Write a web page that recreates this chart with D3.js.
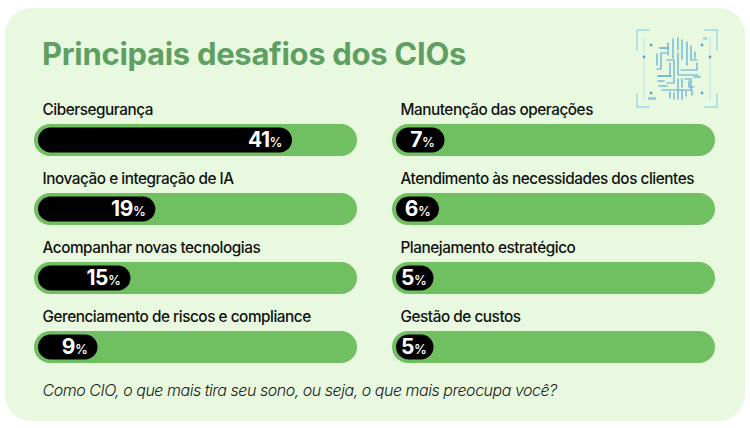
<!DOCTYPE html>
<html>
<head>
<meta charset="utf-8">
<script src="https://cdn.jsdelivr.net/npm/d3@7"></script>
<style>
html, body { margin: 0; padding: 0; background: #fff; }
svg { display: block; }
text { font-family: Inter, sans-serif; }
</style>
</head>
<body>
<svg id="chart" width="750" height="428"></svg>
<script>
var TITLE = "Principais desafios dos CIOs";
var NOTE = "Como CIO, o que mais tira seu sono, ou seja, o que mais preocupa você?";

var leftCategories = ["Cibersegurança", "Inovação e integração de IA", "Acompanhar novas tecnologias", "Gerenciamento de riscos e compliance"];
var leftValues = [41, 19, 15, 9];
var rightCategories = ["Manutenção das operações", "Atendimento às necessidades dos clientes", "Planejamento estratégico", "Gestão de custos"];
var rightValues = [7, 6, 5, 5];

var svg = d3.select("#chart");

// card
svg.append("rect")
    .attr("x", 5).attr("y", 8)
    .attr("width", 740).attr("height", 413)
    .attr("rx", 26)
    .attr("fill", "#e8f9e0");

svg.append("text")
    .attr("x", 42).attr("y", 64.5)
    .attr("font-size", 31).attr("font-weight", 700)
    .attr("letter-spacing", -0.3)
    .attr("fill", "#5f9f62")
    .text(TITLE);

var rowScale = d3.scalePoint().domain(d3.range(4)).range([140, 347]);
// the bars in the picture are not quite proportional, hence the extra stop
var widthScale = d3.scaleLinear().domain([5, 15, 41]).range([37.5, 92.5, 254]);
// smallest bars keep their label a bit closer to the end
var labelPad = d3.scaleLinear().domain([5, 7]).range([6.5, 9.5]).clamp(true);

function drawColumn(categories, values, trackX)
{
    var rows = svg.append("g").selectAll("g")
        .data(values)
        .enter().append("g")
        .attr("transform", function (d, i)
        {
            return "translate(" + trackX + "," + rowScale(i) + ")";
        });

    rows.append("text")
        .attr("x", 8.5).attr("y", -25)
        .attr("font-size", 15.3).attr("font-weight", 500)
        .attr("letter-spacing", -0.45)
        .attr("fill", "#111")
        .text(function (d, i) { return categories[i]; });

    rows.append("rect")
        .attr("x", 0).attr("y", -16)
        .attr("width", 323).attr("height", 32)
        .attr("rx", 16)
        .attr("fill", "#70bf60");

    rows.append("rect")
        .attr("x", 4).attr("y", -12.5)
        .attr("width", function (d) { return widthScale(d); })
        .attr("height", 25)
        .attr("rx", 12.5)
        .attr("fill", "#000");

    var labels = rows.append("text")
        .attr("x", function (d) { return 4 + widthScale(d) - labelPad(d); })
        .attr("y", 7)
        .attr("text-anchor", "end")
        .attr("fill", "#fff");
    labels.append("tspan")
        .attr("font-size", 21).attr("font-weight", 700)
        .attr("letter-spacing", -0.4)
        .text(function (d) { return d; });
    labels.append("tspan")
        .attr("font-size", 13).attr("font-weight", 500)
        .text("%");
}

drawColumn(leftCategories, leftValues, 34);
drawColumn(rightCategories, rightValues, 392);

svg.append("text")
    .attr("x", 42.5).attr("y", 396)
    .attr("font-size", 16).attr("font-style", "italic").attr("font-weight", 300)
    .attr("letter-spacing", -0.47)
    .attr("fill", "#1a1a1a")
    .text(NOTE);

// fingerprint circuit icon
var icon = svg.append("g").attr("transform", "translate(620,15)")
    .attr("fill", "none").attr("stroke-linecap", "square");

var corners = ["M17 35V15H29", "M85 15H97V35", "M17 79V92H29", "M85 92H97V79"];
icon.selectAll(".corner").data(corners)
    .enter().append("path")
    .attr("d", function (d) { return d; })
    .attr("stroke", "#9ad8e6").attr("stroke-width", 1.4);

var rails = ["M24 23V84", "M90 23V84"];
icon.selectAll(".rail").data(rails)
    .enter().append("path")
    .attr("d", function (d) { return d; })
    .attr("stroke", "#bfe3e6").attr("stroke-width", 1)
    .attr("stroke-dasharray", "1 1");

var traces = [
    "M48 28V33H40", "M53 24V43", "M58 23V35", "M62 25V44", "M67 27V50", "M71 31V45H77",
    "M75 37V43", "M40 33H48V40", "M37 39V50", "M37 54H41V38H46", "M47 45H54V68H47",
    "M50 48V61H38", "M58 38V60H78", "M61 55H77V48", "M38 61H51", "M38 66H44", "M39 71H47",
    "M42 75H72V80", "M58 64V74", "M62 64V72", "M65 64H71V74", "M74 62H80", "M69 66V72H74",
    "M50 77V83", "M54 78V84", "M58 76V84", "M62 75V84", "M66 76V81"
];
icon.selectAll(".trace").data(traces)
    .enter().append("path")
    .attr("d", function (d) { return d; })
    .attr("stroke", "#58a9d6").attr("stroke-width", 1.2);

var dots = [[24, 42], [90, 42], [31, 30], [82, 30], [31, 78], [82, 78]];
icon.selectAll("circle").data(dots)
    .enter().append("circle")
    .attr("cx", function (d) { return d[0]; })
    .attr("cy", function (d) { return d[1]; })
    .attr("r", 1.4)
    .attr("fill", "#58a9d6");

icon.append("rect").attr("x", 28).attr("y", 82).attr("width", 8).attr("height", 3).attr("fill", "#8fd0e6");
icon.append("rect").attr("x", 83).attr("y", 22).attr("width", 4).attr("height", 3).attr("fill", "#a6dde8");
</script>
</body>
</html>
